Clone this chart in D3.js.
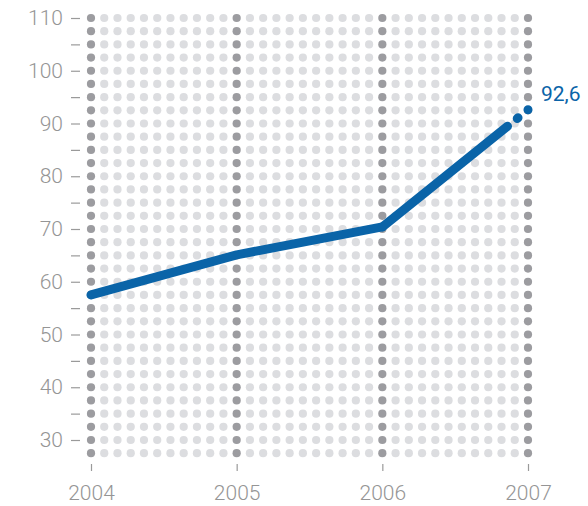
<!DOCTYPE html>
<html>
<head>
<meta charset="utf-8">
<script src="https://cdn.jsdelivr.net/npm/d3@7"></script>
<style>
  html, body { margin: 0; padding: 0; background: #fff; }
  svg { display: block; }
</style>
</head>
<body>
<svg id="chart" width="588" height="506"></svg>
<script>
const years = [2004, 2005, 2006, 2007];
const values = [57.5, 65.1, 70.4, 92.6];
const yTickLabels = [30, 40, 50, 60, 70, 80, 90, 100, 110];
const yMinorTicks = [35, 45, 55, 65, 75, 85, 95, 105];
const lastLabel = "92,6";

const svg = d3.select("#chart");
const x = d3.scaleLinear().domain([2004, 2007]).range([91, 528]);
const y = d3.scaleLinear().domain([30, 110]).range([440, 18]);

// dot grid
const colsPerYear = 11;
const dotCols = d3.range(0, 3 * colsPerYear + 1).map(i => 2004 + i / colsPerYear);
const dotRows = d3.range(27.5, 110.01, 2.5);
const dots = [];
dotCols.forEach((c, i) => dotRows.forEach(r => dots.push({c, r, major: i % colsPerYear === 0})));
svg.append("g").selectAll("circle").data(dots).join("circle")
  .attr("cx", d => x(d.c)).attr("cy", d => y(d.r)).attr("r", 4.1)
  .attr("fill", d => d.major ? "#9c9ca0" : "#dcdde0");

// y axis
const yAxis = d3.axisLeft(y).tickValues(yTickLabels.concat(yMinorTicks))
  .tickSize(9).tickPadding(8)
  .tickFormat(d => yTickLabels.includes(d) ? d : "");
const gy = svg.append("g").attr("transform", "translate(80,0)").call(yAxis);
gy.select(".domain").remove();
gy.selectAll("line").attr("stroke", "#9a9a9a").attr("stroke-width", 1.2);
gy.selectAll("text").attr("fill", "#959595").attr("font-family", "Roboto, sans-serif")
  .attr("font-weight", 300).attr("font-size", 21).attr("x", -17);

// x axis
const xAxis = d3.axisBottom(x).tickValues(years).tickSize(7).tickPadding(14).tickFormat(d3.format("d"));
const gx = svg.append("g").attr("transform", "translate(0,464)").call(xAxis);
gx.select(".domain").remove();
gx.selectAll("line").attr("stroke", "#9a9a9a").attr("stroke-width", 1.2);
gx.selectAll("text").attr("fill", "#959595").attr("font-family", "Roboto, sans-serif")
  .attr("font-weight", 300).attr("font-size", 21);

// line
const pts = years.map((yr, i) => [x(yr), y(values[i])]);
const line = d3.line();
const blue = "#0a64a8";
svg.append("path").attr("d", line(pts.slice(0, 3)))
  .attr("fill", "none").attr("stroke", blue).attr("stroke-width", 9)
  .attr("stroke-linecap", "round").attr("stroke-linejoin", "round");
const last = svg.append("path").attr("d", line(pts.slice(2)))
  .attr("fill", "none").attr("stroke", blue).attr("stroke-width", 9)
  .attr("stroke-linecap", "round");
const L = last.node().getTotalLength();
last.attr("stroke-dasharray", [L - 26.3, 12.5, 1, 12.8, 0.01, 100].join(","));

svg.append("text").attr("x", pts[3][0] + 13).attr("y", pts[3][1] - 9)
  .attr("fill", blue).attr("font-family", "Roboto, sans-serif").attr("font-size", 21)
  .text(lastLabel);
</script>
</body>
</html>
